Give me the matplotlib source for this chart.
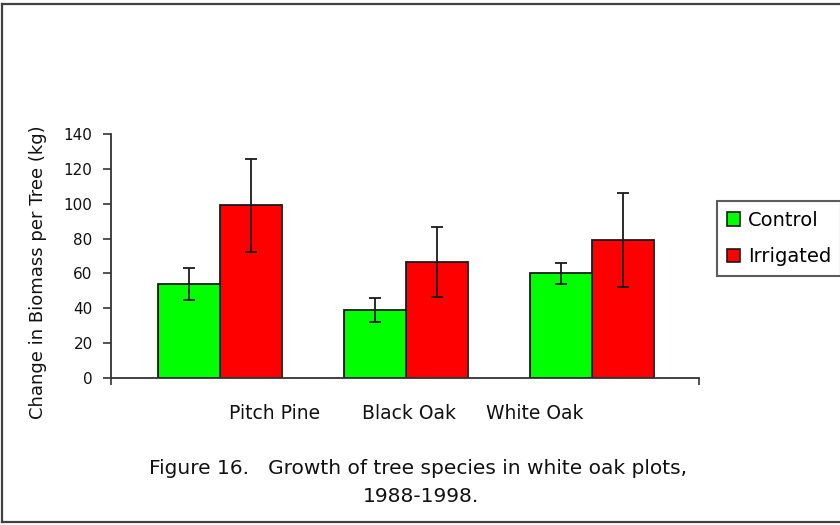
import matplotlib
matplotlib.use("Agg")
import matplotlib.pyplot as plt
import numpy as np
from matplotlib.patches import Patch
from matplotlib.lines import Line2D

categories = ["Pitch Pine", "Black Oak", "White Oak"]
control = [54, 39, 60]
control_err = [9, 7, 6]
irrigated = [99, 66.5, 79]
irrigated_err = [26.5, 20, 27]
series_names = ["Control", "Irrigated"]
yticks = [0, 20, 40, 60, 80, 100, 120, 140]

plt.rcParams['font.family'] = ['DejaVu Sans']

W, H = 840, 525
fig = plt.figure(figsize=(W / 100, H / 100), dpi=100)
ax = fig.add_axes([110.7 / W, 1 - 378 / H, (699.3 - 110.7) / W, (378 - 134) / H])

x = np.arange(len(categories))
bw = 0.334
green = "#00FF00"
red = "#FF0000"
ekw = dict(ecolor="#1a1a1a", elinewidth=1.3, capsize=4, capthick=1.3)
ax.bar(x - bw / 2, control, bw, color=green, edgecolor="#1a1a1a", linewidth=1.3,
       yerr=control_err, error_kw=ekw, zorder=2)
ax.bar(x + bw / 2, irrigated, bw, color=red, edgecolor="#1a1a1a", linewidth=1.3,
       yerr=irrigated_err, error_kw=ekw, zorder=2)

ax.set_xlim(-0.588, 2.579)
ax.set_ylim(0, 140)
ax.set_yticks(yticks)
ax.tick_params(axis='y', direction='out', length=6, width=1.2, pad=7, labelsize=11,
               color="#333333", labelcolor="#111111")

# category labels (offset as in the reference)
label_offsets = [0.296, 0.016, -0.306]
ax.set_xticks(x + np.array(label_offsets))
ax.set_xticklabels(categories, fontsize=13.5, color="#111111")
ax.tick_params(axis='x', length=0, pad=19)
ax.set_xticks([-0.588, 2.579], minor=True)
ax.tick_params(axis='x', which='minor', direction='out', length=5, width=1.2, color="#333333")

for s in ["top", "right"]:
    ax.spines[s].set_visible(False)
for s in ["left", "bottom"]:
    ax.spines[s].set_linewidth(1.3)
    ax.spines[s].set_color("#333333")

fig.text(38 / W, 1 - 272 / H, "Change in Biomass per Tree (kg)", rotation=90,
         ha="center", va="center", fontsize=13, color="#111111")

fig.text(418 / W, 1 - 468 / H, "Figure 16.   Growth of tree species in white oak plots,",
         ha="center", va="center", fontsize=14.5, color="#111111")
fig.text(421 / W, 1 - 497 / H, "1988-1998.", ha="center", va="center",
         fontsize=14.5, color="#111111")

handles = [Patch(facecolor=green, edgecolor="#1a1a1a", linewidth=1.2),
           Patch(facecolor=red, edgecolor="#1a1a1a", linewidth=1.2)]
leg = fig.legend(handles, series_names, loc="upper left",
                 bbox_to_anchor=(717 / W, 1 - 201 / H), fontsize=14,
                 frameon=True, fancybox=False, handlelength=0.7, handleheight=0.7,
                 handletextpad=0.4, labelspacing=0.9, borderpad=0.5, borderaxespad=0)
leg.get_frame().set_edgecolor("#333333")
leg.get_frame().set_linewidth(1.5)

# outer frame (top, left, bottom)
lc = "#404040"
fig.add_artist(Line2D([2 / W, 2 / W], [1 - 522 / H, 1 - 4 / H], color=lc, lw=1.6,
                      transform=fig.transFigure))
fig.add_artist(Line2D([2 / W, 1.0], [1 - 4 / H, 1 - 4 / H], color=lc, lw=1.6,
                      transform=fig.transFigure))
fig.add_artist(Line2D([2 / W, 1.0], [1 - 522 / H, 1 - 522 / H], color=lc, lw=1.6,
                      transform=fig.transFigure))

fig.savefig("out.png", dpi=100)
